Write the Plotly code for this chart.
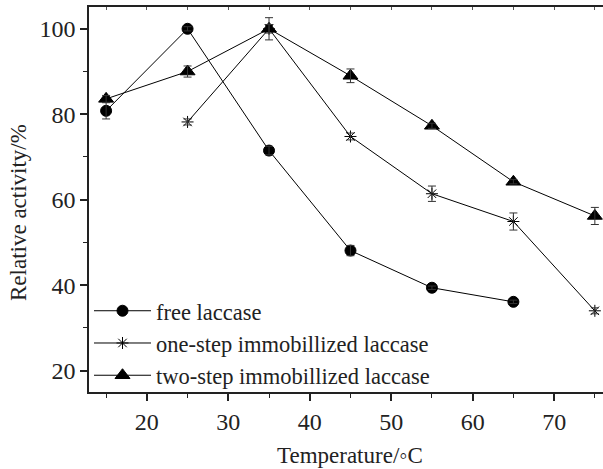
import plotly.graph_objects as go

free_x = [15, 25, 35, 45, 55, 65]
free_y = [80.8, 100.0, 71.5, 48.1, 39.4, 36.1]
free_err = [1.9, 0.5, 1.0, 1.2, 0.4, 0.4]

one_x = [25, 35, 45, 55, 65, 75]
one_y = [78.2, 100.0, 74.8, 61.4, 54.9, 34.0]
one_err = [0.7, 2.6, 0.8, 1.8, 2.0, 0.7]

two_x = [15, 25, 35, 45, 55, 65, 75]
two_y = [83.6, 90.0, 100.0, 89.0, 77.3, 64.2, 56.2]
two_err = [0.8, 1.3, 1.0, 1.6, 0.6, 0.5, 2.0]

series_names = ["free laccase", "one-step immobillized laccase", "two-step immobillized laccase"]
x_ticks = [20, 30, 40, 50, 60, 70]
y_ticks = [20, 40, 60, 80, 100]

FONT = "Liberation Serif"
INK = "#222222"
fig = go.Figure()

def add(x, y, err, name, symbol, size):
    fig.add_trace(go.Scatter(
        x=x, y=y, name=name, mode="lines+markers",
        line=dict(color="black", width=1),
        marker=dict(symbol=symbol, size=size, color="black",
                    line=dict(color="black", width=1)),
    ))

def add_err(x, y, err):
    fig.add_trace(go.Scatter(
        x=x, y=y, mode="markers", showlegend=False, hoverinfo="skip",
        marker=dict(size=1, color="rgba(0,0,0,0)"),
        error_y=dict(type="data", array=err, visible=True,
                     color="#333333", thickness=1, width=4),
    ))

add(free_x, free_y, free_err, series_names[0], "circle", 11)
add(one_x, one_y, one_err, series_names[1], "asterisk-open", 10)
add(two_x, two_y, two_err, series_names[2], "triangle-up", 13)
add_err(free_x, free_y, free_err)
add_err(one_x, one_y, one_err)
add_err(two_x, two_y, two_err)

xr = [12.9, 76.0]
yr = [15.0, 105.1]

L, R, T, B = 89, 0, 7, 77
W, H = 603, 469
pw = W - L - R
ph = H - T - B

fig.update_layout(
    width=W, height=H,
    margin=dict(l=L, r=R, t=T, b=B),
    paper_bgcolor="white", plot_bgcolor="white",
    font=dict(family=FONT, color=INK, size=24),
    showlegend=True,
    legend=dict(x=0.0, y=-0.012, xanchor="left", yanchor="bottom",
                bgcolor="rgba(0,0,0,0)", font=dict(size=22.5, family=FONT, color=INK),
                tracegroupgap=0, itemwidth=57),
    xaxis=dict(range=xr, tickmode="array", tickvals=x_ticks,
               ticks="outside", ticklen=7, tickwidth=1.5, tickcolor=INK,
               showline=True, linecolor=INK, linewidth=1.5,
               showgrid=False, zeroline=False,
               minor=dict(tickvals=[15, 25, 35, 45, 55, 65, 75], ticks="outside",
                          ticklen=4, tickwidth=1.2, tickcolor=INK, showgrid=False),
               tickfont=dict(size=24, family=FONT, color=INK)),
    xaxis2=dict(range=xr, overlaying="x", side="top", showticklabels=False,
                tickmode="array", tickvals=[15, 20, 25, 30, 35, 40, 45, 50, 55, 60, 65, 70, 75],
                ticks="inside", ticklen=3, tickwidth=1, tickcolor="#555555",
                showline=True, linecolor=INK, linewidth=1.5,
                showgrid=False, zeroline=False),
    yaxis=dict(range=yr, tickmode="array", tickvals=y_ticks,
               ticks="outside", ticklen=7, tickwidth=1.5, tickcolor=INK,
               showline=True, linecolor=INK, linewidth=1.5,
               showgrid=False, zeroline=False,
               minor=dict(tickvals=[30, 50, 70, 90], ticks="outside",
                          ticklen=4, tickwidth=1.2, tickcolor=INK, showgrid=False),
               tickfont=dict(size=24, family=FONT, color=INK)),
    annotations=[
        dict(text="Temperature/◦C", x=(350 - L) / pw, y=(H - B - 455) / ph,
             xref="paper", yref="paper", xanchor="center", yanchor="middle",
             showarrow=False, font=dict(size=23, family=FONT, color=INK)),
        dict(text="Relative activity/%", x=(19 - L) / pw, y=(H - B - 213) / ph,
             xref="paper", yref="paper", xanchor="center", yanchor="middle",
             showarrow=False, textangle=-90, font=dict(size=23, family=FONT, color=INK)),
    ],
)

fig.add_trace(go.Scatter(x=[None], y=[None], xaxis="x2", showlegend=False, hoverinfo="skip"))

fig.write_html("out.html")
